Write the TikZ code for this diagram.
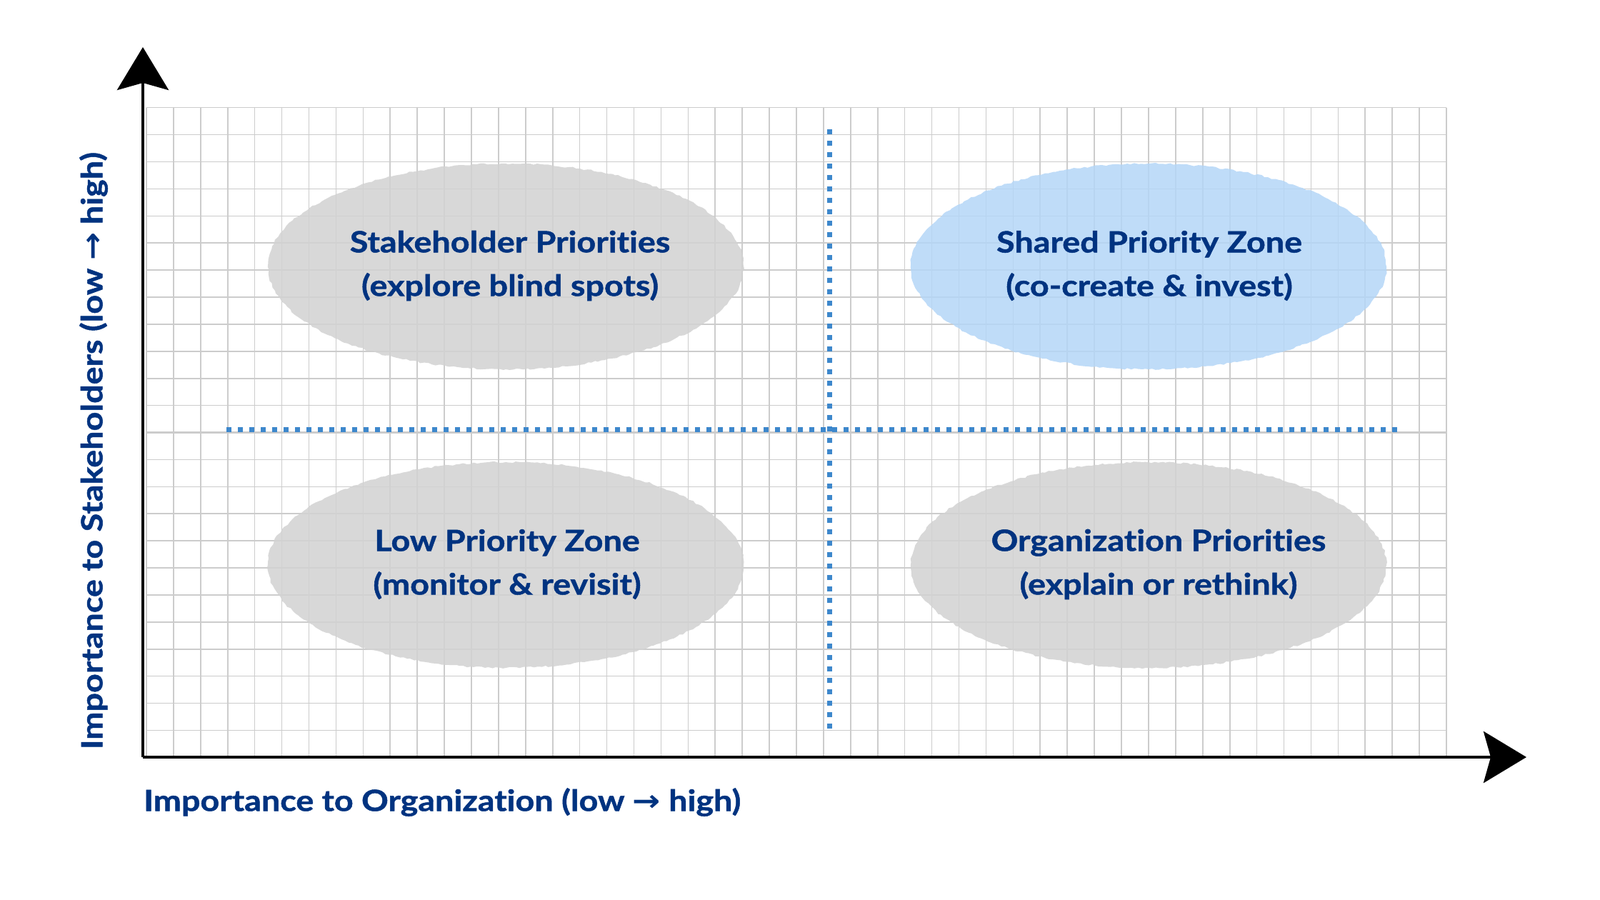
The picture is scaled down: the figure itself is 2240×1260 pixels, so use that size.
\documentclass[tikz,border=0pt]{standalone}
\usepackage{fontspec}
\setmainfont{Lato}[Ligatures=NoCommon, BoldFeatures={FakeStretch=1.14, FakeBold=1.2}]
\newfontfamily\symfont{DejaVu Sans}[FakeStretch=1.14]
\usetikzlibrary{arrows.meta,shapes.geometric,decorations.pathmorphing}
\definecolor{txtblue}{RGB}{0,51,128}
\definecolor{gridgray}{RGB}{204,204,204}
\definecolor{zonegray}{RGB}{210,210,210}
\definecolor{zoneblue}{RGB}{180,214,247}
\definecolor{dotblue}{RGB}{61,135,204}
\tikzset{
  gridline/.style={draw=gridgray, line width=1.6pt},
  gridmajor/.style={draw=gridgray, line width=2.6pt},
  zone/.style={ellipse, minimum width=666pt, minimum height=288pt, inner sep=0pt, fill opacity=0.85,
    decorate, decoration={random steps, segment length=5pt, amplitude=1.2pt}},
  zonetext/.style={text=txtblue, font=\fontsize{41}{61}\selectfont\bfseries, align=center},
  axislabel/.style={text=txtblue, font=\fontsize{41}{48}\selectfont\bfseries, inner sep=0pt},
  dotline/.style={draw=dotblue, line width=7pt, dash pattern=on 7pt off 9pt},
  axisline/.style={draw=black, line width=4.5pt, -{Stealth[length=60pt,width=72pt,inset=10pt]}}
}
\begin{document}
\begin{tikzpicture}[x=1pt,y=-1pt]
\useasboundingbox[fill=white] (0,0) rectangle (2240,1260);
% grid
\foreach \i in {0,...,48} {
  \draw[gridline] ({205+37.917*\i},150.7) -- ({205+37.917*\i},1060);
}
\foreach \j in {0,...,23} {
  \draw[gridline] (205,{150.7+37.904*\j}) -- (2025,{150.7+37.904*\j});
}
\foreach \i in {12,24,36} {
  \draw[gridmajor] ({205+37.917*\i},150.7) -- ({205+37.917*\i},1060);
}
\draw[gridmajor] (205,{150.7+37.904*12}) -- (2025,{150.7+37.904*12});
% zones
\node[zone, fill=zonegray] (sp) at (708,373) {};
\node[zone, fill=zoneblue] (sh) at (1608,373) {};
\node[zone, fill=zonegray] (lp) at (708,791) {};
\node[zone, fill=zonegray] (op) at (1608,791) {};
% dotted quadrant lines
\coordinate (vtop) at (1161,181);
\coordinate (vbot) at (1161,1028);
\coordinate (hleft) at (317,601);
\coordinate (hright) at (1957,601);
\draw[dotline] (vtop) -- (vbot);
\draw[dotline] (hleft) -- (hright);
% axes
\coordinate (O) at (200,1060);
\coordinate (ytip) at (200,66);
\coordinate (xtip) at (2137,1060);
\draw[axisline] (O) -- (ytip);
\draw[axisline] (O) -- (xtip);
% zone texts
\node[zonetext] (spt) at (714,372) {Stakeholder Priorities\\(explore blind spots)};
\node[zonetext] (sht) at (1609,372) {Shared Priority Zone\\(co-create \& invest)};
\node[zonetext] (lpt) at (710,790) {Low Priority Zone\\(monitor \& revisit)};
\node[zonetext] (opt) at (1622,790) {Organization Priorities\\(explain or rethink)};
% axis labels
\node[axislabel, anchor=west] (xl) at (201,1123) {Importance to Organization (low {\symfont →} high)};
\node[axislabel, rotate=90] (yl) at (131,631) {Importance to Stakeholders (low {\symfont →} high)};
\end{tikzpicture}
\end{document}
